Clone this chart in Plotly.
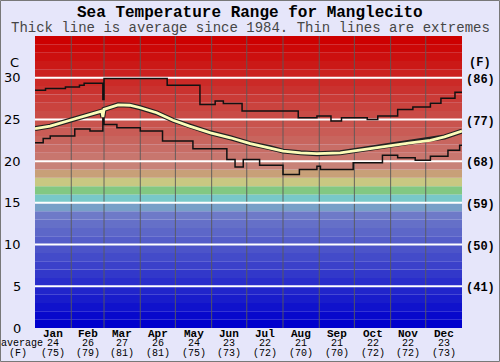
import plotly.graph_objects as go

# ---------------- data ----------------
months = ["Jan", "Feb", "Mar", "Apr", "May", "Jun", "Jul", "Aug", "Sep", "Oct", "Nov", "Dec"]
month_days = [31, 28, 31, 30, 31, 30, 31, 31, 30, 31, 30, 31]
avg_c = [24, 26, 27, 26, 24, 23, 22, 21, 21, 22, 22, 23]
avg_f = [75, 79, 81, 81, 75, 73, 72, 70, 70, 72, 72, 73]

c_ticks = [0, 5, 10, 15, 20, 25, 30]
f_ticks = [32, 41, 50, 59, 68, 77, 86]

# average (thick line), day of year -> deg C
avg_day = [0, 13, 30, 47, 57, 58, 59, 71, 81, 90, 104, 118, 132, 150, 167, 184, 201, 212,
           227, 241, 261, 275, 291, 306, 321, 338, 350, 365]
avg_val = [23.9, 24.2, 24.9, 25.6, 26.0, 25.3, 26.2, 26.75, 26.7, 26.4, 25.8, 24.9, 24.2,
           23.4, 22.8, 22.1, 21.6, 21.2, 21.0, 20.9, 21.0, 21.3, 21.6, 21.9, 22.2, 22.5,
           22.9, 23.6]

# maximum extreme (step line)
max_day = [0, 9, 26, 38, 42, 58, 59, 113, 141, 154, 161, 177, 225, 241, 253, 262, 284,
           293, 310, 323, 338, 347, 359, 365]
max_val = [28.5, 28.7, 28.9, 29.1, 29.35, 27.4, 29.9, 29.1, 26.8, 27.2, 26.9, 26.0, 25.2,
           25.4, 24.8, 25.2, 25.0, 25.4, 26.2, 26.5, 26.95, 27.55, 28.25, 28.25]

# minimum extreme (step line)
min_day = [0, 7, 13, 34, 47, 58, 59, 70, 90, 109, 135, 164, 171, 178, 192, 212, 226, 241,
           244, 272, 297, 310, 325, 338, 353, 363, 365]
min_val = [22.2, 22.7, 23.0, 23.85, 23.6, 25.6, 24.4, 24.0, 23.6, 22.4, 21.5, 20.2, 19.3,
           20.2, 19.5, 18.4, 19.0, 19.4, 19.0, 19.8, 20.7, 20.4, 20.1, 20.6, 21.3, 21.9, 21.9]

# ---------------- styling ----------------
W, H = 500, 362
ML, MR, MT, MB = 35, 38, 36, 34
PW, PH = W - ML - MR, H - MT - MB
YMAX = 35
XMAX = 365


def band_color(i):
    specials = {14: (120, 160, 200), 15: (120, 200, 200), 16: (130, 200, 130),
                17: (200, 200, 130), 18: (200, 160, 120), 19: (200, 130, 120)}
    if i in specials:
        r, g, b = specials[i]
    elif i < 14:
        t = i / 13
        r, g, b = 0 + 110 * t, 0 + 122 * t, 205 - 5 * t
    else:
        t = (i - 20) / 14
        r, g, b = 200 + 5 * t, 118 * (1 - t), 110 * (1 - t)
    return f"rgb({int(r)},{int(g)},{int(b)})"


shapes = []
for i in range(YMAX):
    shapes.append(dict(type="rect", xref="x", yref="y", x0=0, x1=XMAX, y0=i, y1=i + 1,
                       fillcolor=band_color(i), line=dict(width=0), layer="below"))
cum = 0
for d in month_days[:-1]:
    cum += d
    shapes.append(dict(type="line", xref="x", yref="y", x0=cum, x1=cum, y0=0, y1=YMAX,
                       line=dict(color="rgba(90,90,90,0.9)", width=1), layer="below"))
for v in c_ticks[1:]:
    shapes.append(dict(type="line", xref="x", yref="y", x0=0, x1=XMAX, y0=v, y1=v,
                       line=dict(color="white", width=2), layer="below"))
# outer border
shapes.append(dict(type="rect", xref="paper", yref="paper",
                   x0=(-ML + 0.5) / PW, x1=(W - ML - 0.5) / PW,
                   y0=(-MB + 0.5) / PH, y1=(PH + MT - 0.5) / PH,
                   line=dict(color="rgb(120,120,120)", width=1), layer="below"))

fig = go.Figure()
fig.add_trace(go.Scatter(x=max_day, y=max_val, mode="lines", line=dict(color="#111", width=1.5, shape="hv"),
                         hoverinfo="skip"))
fig.add_trace(go.Scatter(x=min_day, y=min_val, mode="lines", line=dict(color="#111", width=1.5, shape="hv"),
                         hoverinfo="skip"))
fig.add_trace(go.Scatter(x=avg_day, y=avg_val, mode="lines", line=dict(color="#222", width=5),
                         hoverinfo="skip"))
fig.add_trace(go.Scatter(x=avg_day, y=avg_val, mode="lines", line=dict(color="rgb(252,252,185)", width=2.8),
                         hoverinfo="skip"))

ann = []
mono = "Liberation Mono"
# title
ann.append(dict(text="<b>Sea Temperature Range for Manglecito</b>", xref="paper", yref="paper",
                x=(W / 2 - ML) / PW, y=1 + (MT - 13) / PH, showarrow=False,
                font=dict(family=mono, size=16, color="black"), xanchor="center", yanchor="middle"))
ann.append(dict(text="Thick line is average since 1984. Thin lines are extremes", xref="paper", yref="paper",
                x=(W / 2 - ML) / PW, y=1 + (MT - 28) / PH, showarrow=False,
                font=dict(family=mono, size=14, color="rgb(70,70,70)"), xanchor="center", yanchor="middle"))
# unit labels
ann.append(dict(text="C", xref="paper", yref="y", x=(14 - ML) / PW, y=31.8, showarrow=False,
                font=dict(family="DejaVu Sans", size=13, color="black"), xanchor="center", yanchor="middle"))
ann.append(dict(text="<b>(F)</b>", xref="paper", yref="y", x=(480 - ML) / PW, y=31.8, showarrow=False,
                font=dict(family=mono, size=12, color="black"), xanchor="center", yanchor="middle"))
for c, f in zip(c_ticks, f_ticks):
    ann.append(dict(text=str(c), xref="paper", yref="y", x=(23 - ML) / PW, y=c, showarrow=False,
                    font=dict(family="DejaVu Sans", size=13, color="black"), xanchor="right", yanchor="middle"))
    ann.append(dict(text=f"<b>({f})</b>", xref="paper", yref="y", x=(464 - ML) / PW, y=c - 0.25, showarrow=False,
                    font=dict(family=mono, size=12, color="black"), xanchor="left", yanchor="middle"))
# month labels
cum = 0
for m, d, c, f in zip(months, month_days, avg_c, avg_f):
    mid = cum + d / 2
    cum += d
    ann.append(dict(text=f"<b>{m}</b>", xref="x", yref="paper", x=mid, y=-(334 - MT - PH) / PH,
                    showarrow=False, font=dict(family=mono, size=11, color="black"),
                    xanchor="center", yanchor="middle", borderpad=0))
    ann.append(dict(text=str(c), xref="x", yref="paper", x=mid, y=-(343.5 - MT - PH) / PH,
                    showarrow=False, font=dict(family=mono, size=10, color="black"),
                    xanchor="center", yanchor="middle", borderpad=0))
    ann.append(dict(text=f"({f})", xref="x", yref="paper", x=mid, y=-(353.5 - MT - PH) / PH,
                    showarrow=False, font=dict(family=mono, size=10, color="black"),
                    xanchor="center", yanchor="middle", borderpad=0))
ann.append(dict(text="average", xref="paper", yref="paper", x=(22 - ML) / PW, y=-(343.5 - MT - PH) / PH,
                showarrow=False, font=dict(family=mono, size=10, color="black"),
                xanchor="center", yanchor="middle", borderpad=0))
ann.append(dict(text="(F)", xref="paper", yref="paper", x=(18 - ML) / PW, y=-(353.5 - MT - PH) / PH,
                showarrow=False, font=dict(family=mono, size=10, color="black"),
                xanchor="center", yanchor="middle", borderpad=0))

fig.update_layout(
    width=W, height=H,
    margin=dict(l=ML, r=MR, t=MT, b=MB, pad=0),
    paper_bgcolor="rgb(230,230,250)",
    plot_bgcolor="rgb(230,230,250)",
    showlegend=False,
    shapes=shapes,
    annotations=ann,
    xaxis=dict(range=[0, XMAX], showgrid=False, zeroline=False, showticklabels=False, ticks="",
               fixedrange=True),
    yaxis=dict(range=[0, YMAX], showgrid=False, zeroline=False, showticklabels=False, ticks="",
               fixedrange=True),
)

fig.write_html("out.html", config={"displayModeBar": False},
               post_script="document.body.style.margin='0px';document.body.style.overflow='hidden';")
